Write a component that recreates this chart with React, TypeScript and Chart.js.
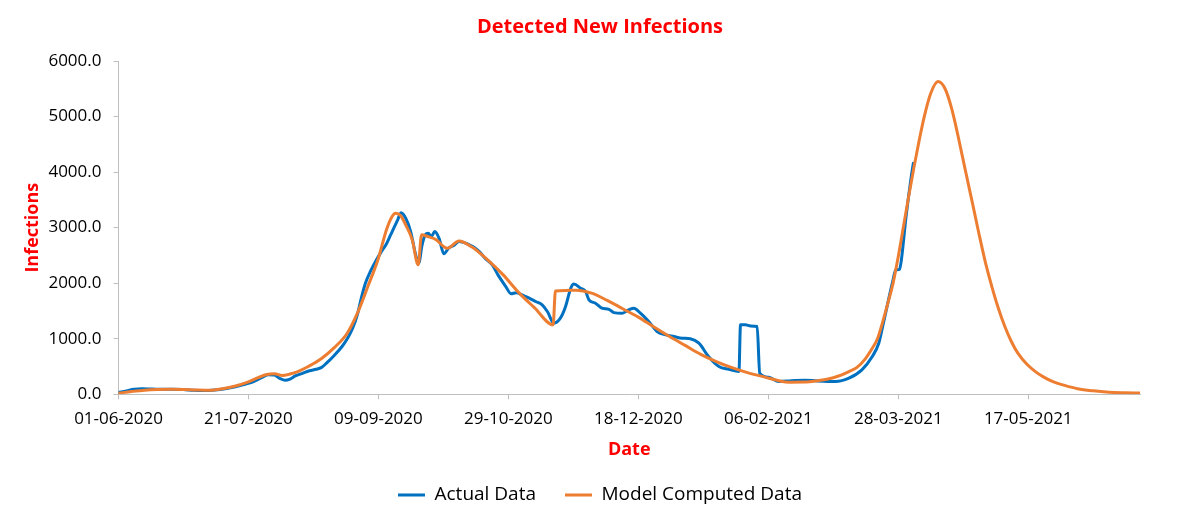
import { useEffect, useRef } from 'react';
import { Chart, registerables } from 'chart.js';

Chart.register(...registerables);

const FONT = "'Open Sans', sans-serif";
const RED = '#FF0000';
const AXIS = '#BFBFBF';
const BLUE = '#0070C0';
const ORANGE = '#ED7D31';

// x axis: day index counted from 01-06-2020
const tickDays = [0, 50, 100, 150, 200, 250, 300, 350];
const tickLabels = ['01-06-2020', '21-07-2020', '09-09-2020', '29-10-2020', '18-12-2020', '06-02-2021', '28-03-2021', '17-05-2021'];
const lastDay = 393;

const actualDays = [
  0, 3, 6, 9, 13, 17, 21, 25, 29, 33, 37, 41, 45, 49, 52, 55, 57.5, 60, 62, 64, 66, 68, 71, 73.5, 76, 78,
  80, 83, 86, 88, 90, 92, 93.5, 95, 97, 99, 101, 103, 104.5, 106, 107.5, 108.7, 110.5, 112.4, 114.5, 115.5,
  116.8, 118, 119.2, 120.3, 121.7, 123.3, 125.2, 127, 129, 131, 133, 135, 137, 139, 141, 143.8, 146, 149,
  151, 153, 155.3, 158, 160.5, 163, 165, 167.5, 170, 172, 174, 175.2, 177.8, 179.7, 181, 183.5, 186, 188.7,
  190.6, 193.8, 196.3, 198.3, 200.8, 204, 207.2, 210.5, 213.7, 216.8, 220, 223.3, 227, 231, 234.8, 238.7,
  239.3, 241.2, 243.2, 245.7, 246.7, 250.2, 254, 259, 264, 269, 275.8, 281, 286, 290, 292.5, 294, 296, 298,
  299, 300.5, 301.2, 303, 305, 305.8,
];
const actualValues = [
  35, 60, 90, 100, 95, 90, 90, 85, 72, 68, 78, 100, 135, 185, 230, 300, 350, 345, 285, 255, 275, 330, 380, 425, 450, 480,
  560, 700, 860, 1000, 1180, 1450, 1750, 2000, 2220, 2400, 2560, 2700, 2850, 3000, 3150, 3270, 3170, 2930, 2480, 2360,
  2690, 2870, 2900, 2840, 2930, 2810, 2530, 2630, 2680, 2750, 2730, 2690, 2640, 2560, 2450, 2330, 2150, 1940,
  1810, 1830, 1790, 1730, 1670, 1610, 1490, 1280, 1370, 1580, 1910, 1985, 1910, 1850, 1700, 1640, 1550, 1530,
  1470, 1460, 1520, 1550, 1460, 1310, 1130, 1070, 1040, 1010, 1000, 920, 680, 500, 450, 410,
  1250, 1250, 1230, 1220, 380, 305, 230, 245, 255, 240, 230, 290, 440, 680, 920, 1220, 1650, 2060,
  2240, 2250, 2420, 3200, 3920, 4160,
];

const modelDays = [
  0, 5, 10, 15, 20, 25, 30, 35, 40, 45, 50, 54, 57, 60, 63, 66, 69, 73, 78, 83, 88, 92, 96, 100, 103, 105,
  106.6, 108.5, 110.5, 113, 115.3, 116.6, 119, 122, 126.5, 131, 136, 142, 148, 154, 160, 167.2, 168.1, 172,
  176, 182, 188, 194, 200, 206, 212, 218, 224, 230, 236, 242, 249, 254, 258, 264, 269, 273, 277, 281, 284,
  287, 290, 292, 294, 296, 298, 300, 302, 304, 306, 308, 310, 312.5, 315.3, 318, 320.5, 323, 325.5, 328.5,
  331, 333.5, 336, 338.5, 341, 343.5, 346, 349.5, 353, 356, 359.5, 364, 369, 375, 381, 387, 393,
];
const modelValues = [
  20, 50, 75, 88, 92, 88, 78, 72, 100, 150, 225, 305, 355, 370, 338, 365, 410, 500, 640, 840, 1100, 1470, 1950, 2450, 2950, 3180,
  3260, 3220, 3050, 2780, 2330, 2870, 2840, 2790, 2630, 2760, 2650, 2420, 2150, 1830, 1560, 1250, 1860, 1870,
  1875, 1820, 1690, 1540, 1390, 1210, 1040, 880, 720, 590, 480, 390, 305, 245, 218, 220, 245, 275, 330, 410, 480,
  620, 830, 1000, 1300, 1640, 2000, 2480, 3020, 3560, 4080, 4560, 5000, 5420, 5630, 5500, 5150, 4650, 4100, 3450,
  2900, 2380, 1940, 1550, 1220, 950, 740, 540, 400, 310, 227, 160, 100, 62, 38, 28, 22,
];

const yTicks = [0, 1000, 2000, 3000, 4000, 5000, 6000];

export default function App() {
  const canvasRef = useRef<HTMLCanvasElement | null>(null);

  useEffect(() => {
    if (!canvasRef.current) return;
    const chart = new Chart(canvasRef.current, {
      type: 'line',
      data: {
        datasets: [
          {
            label: 'Actual Data',
            data: actualDays.map((d, i) => ({ x: d, y: actualValues[i] })),
            borderColor: BLUE,
            backgroundColor: BLUE,
            pointBorderColor: BLUE,
            pointBackgroundColor: BLUE,
            pointBorderWidth: 3,
            borderWidth: 3,
            pointRadius: 0,
            cubicInterpolationMode: 'monotone',
            borderJoinStyle: 'round',
            borderCapStyle: 'round',
            order: 1,
          },
          {
            label: 'Model Computed Data',
            data: modelDays.map((d, i) => ({ x: d, y: modelValues[i] })),
            borderColor: ORANGE,
            backgroundColor: ORANGE,
            pointBorderColor: ORANGE,
            pointBackgroundColor: ORANGE,
            pointBorderWidth: 3,
            borderWidth: 3,
            pointRadius: 0,
            cubicInterpolationMode: 'monotone',
            borderJoinStyle: 'round',
            borderCapStyle: 'round',
            order: 0,
          },
        ],
      },
      options: {
        responsive: false,
        animation: false,
        events: [],
        layout: { padding: { left: 0, right: 0, top: 0, bottom: 7.5 } },
        plugins: {
          title: {
            display: true,
            text: 'Detected New Infections',
            color: RED,
            font: { family: FONT, size: 20, weight: 'bold' },
            padding: { top: 15, bottom: 22 },
          },
          legend: {
            position: 'bottom',
            labels: {
              usePointStyle: true,
              pointStyle: 'line',
              pointStyleWidth: 27,
              color: '#000',
              font: { family: FONT, size: 19 },
              padding: 29,
              sort: (a: any, b: any) => a.datasetIndex - b.datasetIndex,
            },
          },
          tooltip: { enabled: false },
        },
        scales: {
          x: {
            type: 'linear',
            min: 0,
            max: lastDay,
            afterBuildTicks: (axis: any) => {
              axis.ticks = tickDays.map((value) => ({ value }));
            },
            afterFit: (s: any) => {
              s.height = 62.2;
            },
            grid: { drawOnChartArea: false, drawTicks: true, tickLength: 5, color: AXIS, lineWidth: 1 },
            border: { color: AXIS, width: 1 },
            ticks: {
              autoSkip: false,
              maxRotation: 0,
              padding: 10,
              color: '#000',
              font: { family: FONT, size: 17 },
              callback: (value: any) => {
                const i = tickDays.indexOf(Number(value));
                return i >= 0 ? tickLabels[i] : '';
              },
            },
            title: {
              display: true,
              text: 'Date',
              color: RED,
              font: { family: FONT, size: 18, weight: 'bold' },
              padding: { top: 0, bottom: -4.3 },
            },
          },
          y: {
            type: 'linear',
            min: 0,
            max: 6000,
            afterBuildTicks: (axis: any) => {
              axis.ticks = yTicks.map((value) => ({ value }));
            },
            afterFit: (s: any) => {
              s.width = 118.5;
            },
            grid: { drawOnChartArea: false, drawTicks: true, tickLength: 5, color: AXIS, lineWidth: 1 },
            border: { color: AXIS, width: 1 },
            ticks: {
              padding: 12,
              color: '#000',
              font: { family: FONT, size: 17 },
              callback: (value: any) => Number(value).toFixed(1),
            },
            title: {
              display: true,
              text: 'Infections',
              color: RED,
              font: { family: FONT, size: 18, weight: 'bold' },
              padding: { top: 22, bottom: 0 },
            },
          },
          y2: {
            type: 'linear',
            position: 'right',
            display: true,
            grid: { display: false },
            border: { display: false },
            ticks: { display: false },
            afterFit: (s: any) => {
              s.width = 60;
            },
          },
        },
      },
    } as any);
    return () => chart.destroy();
  }, []);

  return (
    <div style={{ position: 'absolute', left: 0, top: 0, width: 1200, height: 522, background: '#fff' }}>
      <canvas ref={canvasRef} width={1200} height={522} style={{ display: 'block', width: 1200, height: 522 }} />
    </div>
  );
}
